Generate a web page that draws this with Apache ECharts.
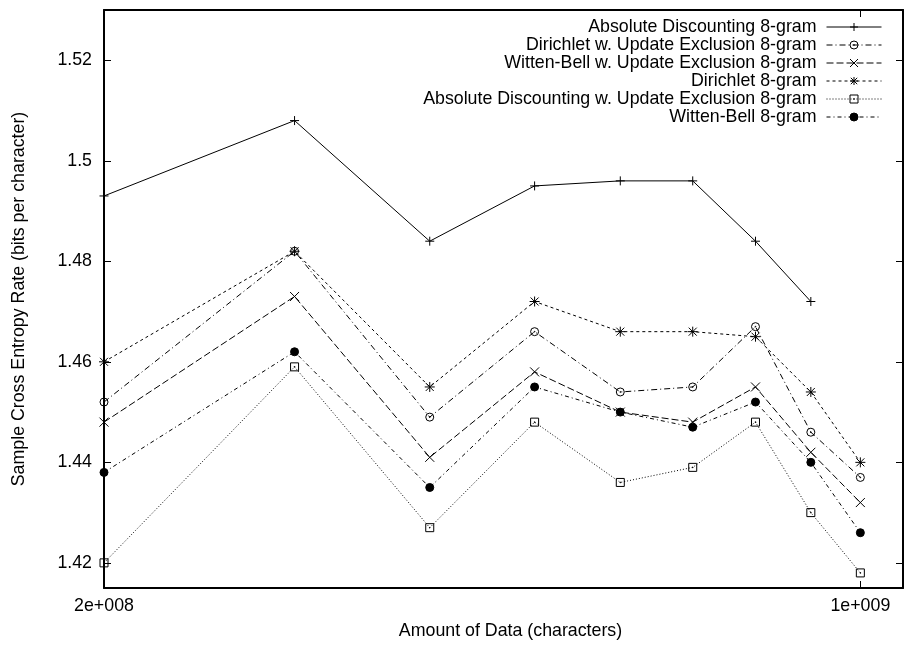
<!DOCTYPE html>
<html>
<head>
<meta charset="utf-8">
<script src="https://cdn.jsdelivr.net/npm/echarts@6/dist/echarts.min.js"></script>
<style>
  html, body { margin: 0; padding: 0; background: #fff; }
  #chart { width: 904px; height: 646px; }
</style>
</head>
<body>
<div id="chart"></div>
<script>
// Amount of training data (characters)
const dataSizes = [2e8, 3e8, 4e8, 5e8, 6e8, 7e8, 8e8, 9e8, 1e9];

// Sample cross entropy rate (bits per character) per smoothing method
const absoluteDiscounting   = [1.493, 1.508, 1.484, 1.495, 1.496, 1.496, 1.484, 1.472];
const dirichletUE           = [1.452, 1.482, 1.449, 1.466, 1.454, 1.455, 1.467, 1.446, 1.437];
const wittenBellUE          = [1.448, 1.473, 1.441, 1.458, 1.450, 1.448, 1.455, 1.442, 1.432];
const dirichlet             = [1.460, 1.482, 1.455, 1.472, 1.466, 1.466, 1.465, 1.454, 1.440];
const absoluteDiscountingUE = [1.420, 1.459, 1.427, 1.448, 1.436, 1.439, 1.448, 1.430, 1.418];
const wittenBell            = [1.438, 1.462, 1.435, 1.455, 1.450, 1.447, 1.452, 1.440, 1.426];

const seriesNames = [
  'Absolute Discounting 8-gram',
  'Dirichlet w. Update Exclusion 8-gram',
  'Witten-Bell w. Update Exclusion 8-gram',
  'Dirichlet 8-gram',
  'Absolute Discounting w. Update Exclusion 8-gram',
  'Witten-Bell 8-gram'
];

// Axis ticks
const xTickValues = [2e8, 1e9];
const xTickLabels = ['2e+008', '1e+009'];
const yTickValues = [1.42, 1.44, 1.46, 1.48, 1.5, 1.52];

const FONT = 'Liberation Sans, Arial, sans-serif';
const FS = 17.8;

// Point glyphs
const PLUS   = 'path://M5,0 L5,10 M0,5 L10,5';
const CROSS  = 'path://M0,0 L10,10 M10,0 L0,10';
const STAR   = 'path://M5,0 L5,10 M0,5 L10,5 M1,1 L9,9 M9,1 L1,9';
const RING   = 'path://M10,5 A5,5 0 1,1 0,5 A5,5 0 1,1 10,5 Z M4.6,4.6 L5.4,4.6 L5.4,5.4 L4.6,5.4 Z';
const BOX    = 'path://M0,0 L10,0 L10,10 L0,10 Z M4.6,4.6 L5.4,4.6 L5.4,5.4 L4.6,5.4 Z';

const styles = [
  { values: absoluteDiscounting,   symbol: PLUS,     size: 9,  fill: 'transparent', dash: 'solid' },
  { values: dirichletUE,           symbol: RING,     size: 8,  fill: 'transparent', dash: [6, 3, 1, 3] },
  { values: wittenBellUE,          symbol: CROSS,    size: 9,  fill: 'transparent', dash: [7, 3] },
  { values: dirichlet,             symbol: STAR,     size: 10, fill: 'transparent', dash: [3, 3] },
  { values: absoluteDiscountingUE, symbol: BOX,      size: 8,  fill: 'transparent', dash: [1, 2] },
  { values: wittenBell,            symbol: 'circle', size: 8,  fill: '#000',        dash: [4, 3, 1, 3] }
];

const series = styles.map((s, i) => ({
  name: seriesNames[i],
  type: 'line',
  xAxisIndex: 0,
  yAxisIndex: 0,
  data: s.values.map((v, j) => [dataSizes[j], v]),
  symbol: s.symbol,
  symbolSize: s.size,
  showAllSymbol: true,
  clip: false,
  lineStyle: { color: '#000', width: 1, type: s.dash },
  itemStyle: { color: s.fill, borderColor: '#000', borderWidth: 1 },
  emphasis: { disabled: true }
}));

const axisLineStyle = { lineStyle: { color: '#000', width: 2 } };
const tickStyle = { inside: true, length: 7, lineStyle: { color: '#000', width: 1 } };
const X_MIN = 2e8, X_MAX = 1.095e9, Y_MIN = 1.415, Y_MAX = 1.53;

const chart = echarts.init(document.getElementById('chart'), null, { renderer: 'canvas' });
chart.setOption({
  animation: false,
  backgroundColor: '#fff',
  textStyle: { fontFamily: FONT },
  grid: { left: 104, top: 10, right: 1, bottom: 58, containLabel: false },
  legend: {
    orient: 'vertical',
    right: 22,
    top: 18,
    padding: 0,
    align: 'right',
    itemWidth: 55,
    itemHeight: 10,
    itemGap: 0,
    selectedMode: false,
    data: seriesNames,
    textStyle: { fontFamily: FONT, fontSize: FS, lineHeight: 18, color: '#000', padding: [0, 5, 0, 0] },
    lineStyle: { width: 1 },
    itemStyle: { borderWidth: 1 }
  },
  xAxis: [
    {
      type: 'log',
      position: 'bottom',
      min: X_MIN,
      max: X_MAX,
      name: 'Amount of Data (characters)',
      nameLocation: 'middle',
      nameGap: 34,
      nameTextStyle: { fontFamily: FONT, fontSize: FS, color: '#000', padding: [0, 0, 0, 14] },
      axisLine: axisLineStyle,
      axisTick: Object.assign({ customValues: xTickValues }, tickStyle),
      minorTick: { show: false },
      axisLabel: {
        customValues: xTickValues,
        margin: 9,
        fontFamily: FONT, fontSize: FS, color: '#000',
        formatter: v => {
          const k = xTickValues.findIndex(t => Math.abs(t - v) / t < 1e-6);
          return k >= 0 ? xTickLabels[k] : '';
        }
      },
      splitLine: { show: false }
    },
    {
      type: 'log',
      position: 'top',
      min: X_MIN,
      max: X_MAX,
      axisLine: axisLineStyle,
      axisTick: Object.assign({ customValues: xTickValues }, tickStyle),
      axisLabel: { show: false },
      splitLine: { show: false }
    }
  ],
  yAxis: [
    {
      type: 'value',
      position: 'left',
      min: Y_MIN,
      max: Y_MAX,
      name: 'Sample Cross Entropy Rate (bits per character)',
      nameLocation: 'middle',
      nameGap: 76,
      nameTextStyle: { fontFamily: FONT, fontSize: FS, color: '#000' },
      axisLine: axisLineStyle,
      axisTick: Object.assign({ customValues: yTickValues }, tickStyle),
      axisLabel: {
        customValues: yTickValues,
        margin: 12,
        fontFamily: FONT, fontSize: FS, color: '#000'
      },
      splitLine: { show: false }
    },
    {
      type: 'value',
      position: 'right',
      min: Y_MIN,
      max: Y_MAX,
      axisLine: axisLineStyle,
      axisTick: Object.assign({ customValues: yTickValues }, tickStyle),
      axisLabel: { show: false },
      splitLine: { show: false }
    }
  ],
  series: series
});
</script>
</body>
</html>
